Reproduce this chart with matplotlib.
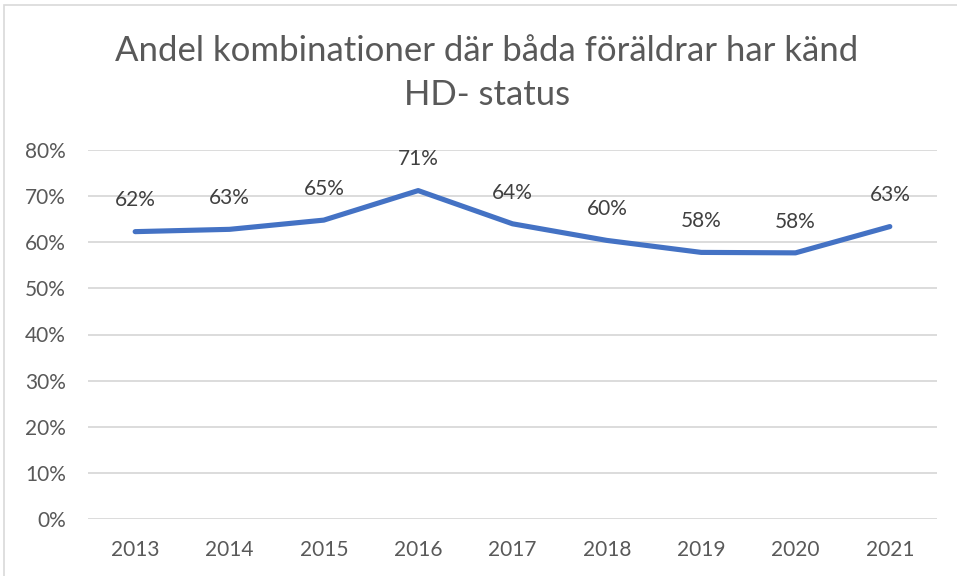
import matplotlib
matplotlib.use("Agg")
import matplotlib.pyplot as plt
from matplotlib.patches import Rectangle

years = ["2013", "2014", "2015", "2016", "2017", "2018", "2019", "2020", "2021"]
share = [0.623, 0.628, 0.648, 0.712, 0.640, 0.604, 0.578, 0.577, 0.634]
labels = ["62%", "63%", "65%", "71%", "64%", "60%", "58%", "58%", "63%"]
yticks = [0, 0.1, 0.2, 0.3, 0.4, 0.5, 0.6, 0.7, 0.8]
ytick_labels = ["0%", "10%", "20%", "30%", "40%", "50%", "60%", "70%", "80%"]
title = "Andel kombinationer där båda föräldrar har känd\nHD- status"

plt.rcParams['font.family'] = ['Lato', 'DejaVu Sans']
W, H = 957, 576
fig = plt.figure(figsize=(W / 100, H / 100), dpi=100)
ax = fig.add_axes([88 / W, 1 - 519 / H, (937 - 88) / W, (519 - 150) / H])

gray = "#595959"
x = list(range(len(years)))
ax.plot(x, share, color="#4472C4", lw=3.7, solid_capstyle="round", solid_joinstyle="round", zorder=3)
for xi, v, lab in zip(x, share, labels):
    ax.annotate(lab, (xi, v), xytext=(0, 22.5), textcoords="offset points",
                ha="center", va="center", fontsize=15, color="#404040")

ax.set_xlim(-0.5, len(years) - 0.5)
ax.set_ylim(0, 0.8)
ax.set_yticks(yticks)
ax.set_yticklabels(ytick_labels)
ax.set_xticks(x)
ax.set_xticklabels(years)
ax.tick_params(axis="both", length=0, labelsize=15, colors=gray)
ax.tick_params(axis="y", pad=16)
ax.tick_params(axis="x", pad=15)
ax.grid(axis="y", color="#d9d9d9", lw=1.3)
ax.set_axisbelow(True)
for s in ax.spines.values():
    s.set_visible(False)

fig.text(487 / W, 1 - 73 / H, title, ha="center", va="center", fontsize=25,
         color=gray, linespacing=1.48)

fig.patches.append(Rectangle((4 / W, -0.1), 1.2, 1 - 5 / H + 0.1, transform=fig.transFigure,
                             fill=False, edgecolor="#d9d9d9", lw=1.2))

fig.savefig("out.png", dpi=100)
